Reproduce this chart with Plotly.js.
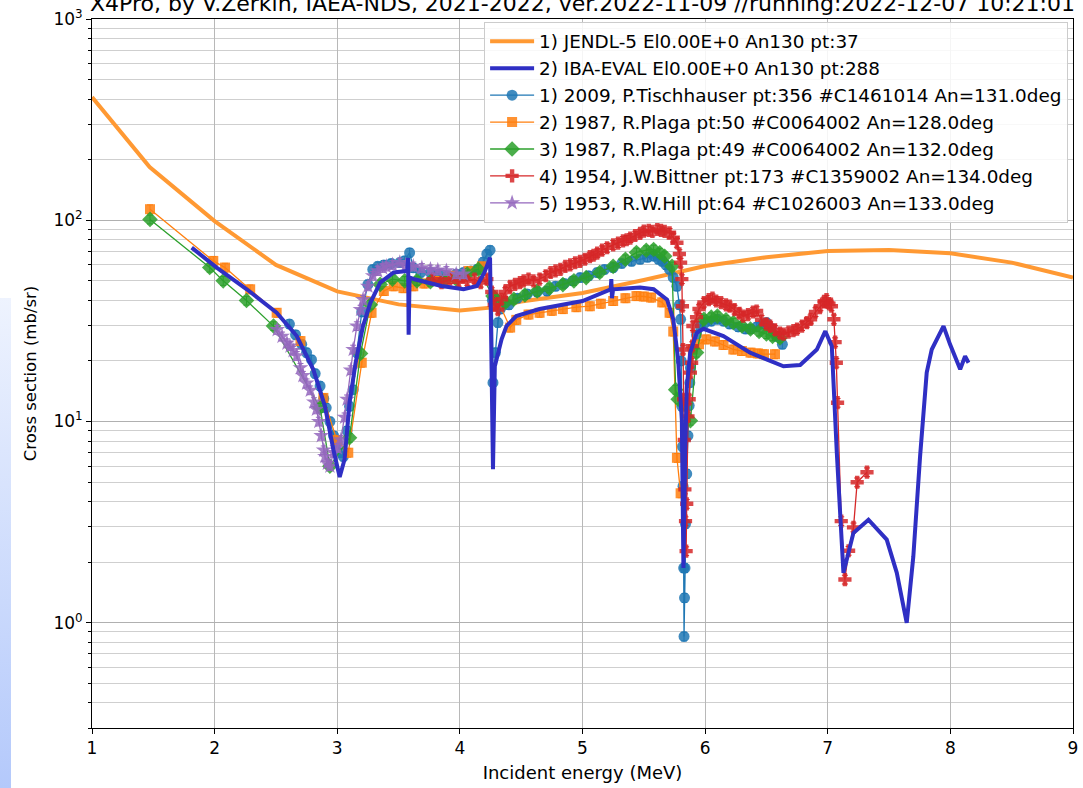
<!DOCTYPE html>
<html>
<head>
<meta charset="utf-8">
<script src="https://cdn.plot.ly/plotly-3.0.1.min.js"></script>
<style>
  html, body { margin: 0; padding: 0; background: #ffffff; }
  #strip { position: absolute; left: 0; top: 298px; width: 11px; height: 490px;
           background: linear-gradient(to bottom, #eef3fe, #b4c9fb); z-index: 0; }
  #chart { position: absolute; left: 0; top: 0; width: 1083px; height: 788px; z-index: 1; }
</style>
</head>
<body>
<div id="strip"></div>
<div id="chart"></div>
<script>
// ---------- data ----------
const titleText = "X4Pro, by V.Zerkin, IAEA-NDS, 2021-2022, ver.2022-11-09 //running:2022-12-07 10:21:01";

const seriesNames = [
  "1) JENDL-5 El0.00E+0 An130 pt:37",
  "2) IBA-EVAL El0.00E+0 An130 pt:288",
  "1) 2009, P.Tischhauser pt:356 #C1461014 An=131.0deg",
  "2) 1987, R.Plaga pt:50 #C0064002 An=128.0deg",
  "3) 1987, R.Plaga pt:49 #C0064002 An=132.0deg",
  "4) 1954, J.W.Bittner pt:173 #C1359002 An=134.0deg",
  "5) 1953, R.W.Hill pt:64 #C1026003 An=133.0deg"
];

const jendlE = [1.0, 1.47, 2.0, 2.5, 3.0, 3.5, 4.0, 4.25, 4.5, 5.0, 5.5, 6.0, 6.5, 7.0, 7.5, 8.0, 8.5, 9.0];
const jendlV = [409, 184, 99, 60, 44.3, 38.2, 35.6, 36.8, 39.5, 43.5, 50.5, 59.3, 65.5, 70.3, 71.1, 68.5, 61.6, 51.9];

const ibaE = [1.813, 2.017, 2.262, 2.506, 2.67, 2.805, 2.90, 2.968, 3.02, 3.06, 3.10, 3.15, 3.21, 3.27, 3.35, 3.46, 3.57,
  3.578, 3.582, 3.59, 3.63, 3.85, 4.03, 4.14, 4.20, 4.246, 4.27, 4.285, 4.34, 4.38, 4.46, 4.65, 5.0, 5.23, 5.235, 5.24, 5.25,
  5.47, 5.58, 5.69, 5.74, 5.78, 5.81, 5.823, 5.837, 5.851, 5.878, 5.932, 5.986, 6.149, 6.367, 6.639, 6.775, 6.911, 6.98,
  7.033, 7.074, 7.128, 7.209, 7.332, 7.481, 7.563, 7.644, 7.698, 7.753, 7.807, 7.848, 7.944, 7.998, 8.08, 8.12, 8.148];
const ibaV = [73.1, 58.2, 45.4, 34.7, 26.6, 18.1, 11.9, 7.26, 5.3, 6.5, 12.4, 19.6, 29.8, 38.9, 49, 55, 56,
  65, 27, 52, 50.9, 47.1, 45.4, 47.1, 55, 65.2, 5.8, 18.8, 25.6, 29.8, 33.4, 36.2, 39.7, 45.4, 51, 41, 45.4,
  46.3, 45.4, 40.3, 32.2, 20.3, 10.2, 1.87, 6.98, 15, 22, 27.6, 28.9, 26.6, 22, 18.8, 19.1, 22.8, 28.1,
  23.7, 6.98, 1.77, 2.79, 3.25, 2.59, 1.77, 1.0, 2.14, 6.72, 17.5, 22.8, 29.8, 24.1, 18.2, 21.1, 19.6];

const tischE = [2.61, 2.66, 2.71, 2.75, 2.79, 2.82, 2.86, 2.89, 2.91, 2.94, 2.97, 3.00, 3.03, 3.05, 3.08, 3.10, 3.13, 3.16,
  3.20, 3.25, 3.29, 3.33, 3.38, 3.44, 3.51, 3.55, 3.59, 3.62, 3.68, 3.76, 3.83, 3.90, 3.97, 4.03, 4.09, 4.14, 4.19, 4.22,
  4.246, 4.265, 4.27, 4.29, 4.31, 4.33, 4.40, 4.47, 4.55, 4.63, 4.71, 4.78, 4.85, 4.92, 4.98, 5.05, 5.12, 5.18, 5.25,
  5.32, 5.40, 5.47, 5.53, 5.58, 5.62, 5.65, 5.68, 5.71, 5.74, 5.77, 5.79, 5.80, 5.805, 5.81, 5.815, 5.82, 5.825, 5.828,
  5.832, 5.836, 5.84, 5.85, 5.86, 5.87, 5.875, 5.88, 5.90, 5.93, 5.96, 6.00, 6.05, 6.10, 6.15, 6.20, 6.27, 6.33, 6.37,
  6.42, 6.47, 6.50, 6.54, 6.58, 6.63];
const tischV = [30.5, 27, 24.2, 22, 20.3, 17.3, 15, 13, 11.7, 10, 8.5, 7.85, 7.0, 6.7, 9.0, 11.9, 14.4, 22,
  35, 48, 57, 59, 60, 61, 61.6, 63, 69, 58, 55, 55, 54, 53, 54, 55, 56, 57, 62, 68,
  71, 40, 15.6, 22, 31, 36.2, 38, 41, 43, 44, 44.5, 47, 48.5, 50, 51.9, 53, 55, 57, 58.2,
  61, 62.5, 64, 65.5, 66.3, 64, 62.5, 60, 57, 52, 47, 38, 32.2, 20, 11.9, 7.5, 4.77, 1.87, 0.855,
  1.33, 1.87, 3.1, 5.5, 8.5, 12, 15.6, 18.5, 23, 27, 29.8, 31, 31.5, 32.2, 31.5, 30.5, 29.5, 28.8, 28.8,
  29.5, 30.5, 31, 29, 26.5, 24.2];

const plaga128E = [1.473, 1.989, 2.085, 2.29, 2.506, 2.70, 2.887, 2.996, 3.09, 3.2, 3.28, 3.38, 3.46, 3.54, 3.62, 3.71,
  3.81, 3.94, 4.07, 4.18, 4.41, 4.46, 4.56, 4.65, 4.75, 4.84, 4.95, 5.06, 5.15, 5.25, 5.35, 5.44, 5.50, 5.56, 5.65,
  5.71, 5.74, 5.77, 5.80, 5.9, 5.95, 6.01, 6.08, 6.15, 6.23, 6.30, 6.37, 6.43, 6.48, 6.57];
const plaga128V = [113.5, 62.8, 58.2, 45.4, 34.7, 25.1, 13.1, 8.1, 7.0, 19.6, 34.7, 44.5, 47, 46, 47, 48.5,
  50, 53, 56, 59, 29.3, 32, 34, 34.7, 35.5, 36.2, 37, 37.4, 38.5, 39.7, 41, 42, 41.8, 41.3, 39.1,
  34.7, 28, 6.6, 4.4, 22.8, 24.2, 25.6, 25, 24, 22.8, 22.4, 22, 21.8, 21.6, 21.6];

const plaga132E = [1.473, 1.96, 2.07, 2.26, 2.48, 2.86, 2.94, 3.1, 3.19, 3.27, 3.35, 3.45, 3.55, 3.65, 3.76, 3.87, 3.97,
  4.06, 4.15, 4.27, 4.30, 4.37, 4.44, 4.53, 4.63, 4.73, 4.84, 4.93, 5.03, 5.14, 5.25, 5.35, 5.44, 5.52, 5.58, 5.63,
  5.67, 5.73, 5.76, 5.78, 5.88, 5.93, 5.99, 6.05, 6.10, 6.17, 6.23, 6.30, 6.37, 6.44, 6.50, 6.55, 6.61];
const plaga132V = [101, 58.2, 50, 39.9, 29.8, 11.7, 6.0, 8.3, 21.8, 38, 48, 51, 50, 50, 49.5, 50, 51,
  54, 57, 42, 40, 39, 40.5, 42.5, 44.5, 46, 47.9, 50, 51.9, 55, 59, 64, 69.2, 71, 71.6, 69,
  66.3, 59, 14.4, 12.9, 10.1, 22, 32.2, 33, 33.4, 32, 31, 29.8, 28.8, 28, 27.2, 26.5, 26];

const bittnerE = [3.78, 3.85, 3.92, 3.99, 4.06, 4.12, 4.17, 4.22, 4.26, 4.28, 4.31, 4.34, 4.37, 4.41, 4.45, 4.49, 4.52,
  4.56, 4.60, 4.65, 4.70, 4.74, 4.78, 4.82, 4.86, 4.90, 4.94, 4.98, 5.02, 5.06, 5.09, 5.12, 5.16, 5.20, 5.25, 5.29,
  5.33, 5.36, 5.39, 5.43, 5.47, 5.50, 5.54, 5.57, 5.61, 5.64, 5.67, 5.71, 5.74, 5.77, 5.79, 5.80, 5.81, 5.815, 5.82,
  5.825, 5.83, 5.835, 5.84, 5.845, 5.85, 5.86, 5.87, 5.88, 5.89, 5.895, 5.90, 5.93, 5.95, 5.99, 6.03, 6.06, 6.09,
  6.13, 6.17, 6.20, 6.24, 6.28, 6.31, 6.35, 6.39, 6.42, 6.46, 6.50, 6.53, 6.57, 6.61, 6.64, 6.68, 6.72, 6.75, 6.79,
  6.83, 6.86, 6.90, 6.94, 6.97, 6.99, 7.01, 7.03, 7.05, 7.06, 7.07, 7.08, 7.11, 7.14, 7.17, 7.21, 7.24, 7.32];
const bittnerV = [51, 49, 51, 49.5, 50, 51, 49, 51, 44, 38, 36, 40.5, 44, 47, 48, 49, 50,
  51, 50, 51, 53, 55, 56, 57, 59, 60, 61.5, 62.5, 64, 66, 67, 68.6, 71, 73, 75.5, 77,
  79, 80, 81.6, 84, 86, 88.3, 89, 88, 90, 89, 88, 86.7, 82, 77.3, 68, 61.6, 51, 37.4, 22.8,
  12.9, 8.1, 4.6, 3.2, 2.27, 3.9, 10.6, 12.9, 17.5, 19.6, 23.7, 29.8, 33, 36.2, 39, 40.3, 41, 39.7,
  39, 38, 37.4, 36, 34.5, 33.4, 34, 35, 35.4, 32, 30.5, 29.8, 28.5, 27.5, 27.2, 27.8, 28.3, 28.8, 29.8,
  31, 32.2, 35, 37.4, 39.5, 40.3, 38.5, 37.4, 32.2, 24.8, 19.6, 12.4, 3.2, 1.64, 2.28, 2.98, 4.99, 5.6];

const hillE = [2.51, 2.55, 2.59, 2.615, 2.64, 2.67, 2.70, 2.72, 2.75, 2.78, 2.81, 2.83, 2.85, 2.87, 2.89, 2.90, 2.92,
  2.94, 2.97, 3.00, 3.03, 3.06, 3.08, 3.11, 3.13, 3.16, 3.19, 3.21, 3.25, 3.29, 3.33, 3.37, 3.40, 3.45, 3.51, 3.56,
  3.62, 3.69, 3.76, 3.82, 3.89, 3.97, 4.03];
const hillV = [28.6, 26.5, 24.5, 23.7, 22.5, 21.2, 18.5, 16.9, 15.5, 14.3, 12.5, 11.5, 10, 8.5, 7.2, 6.7, 6.2,
  6.0, 7.0, 7.4, 8.1, 10.5, 12.9, 18, 22.8, 29.8, 36, 40.3, 47, 53, 56, 58, 59, 60, 61.6, 60,
  59, 58, 57, 56.5, 56, 54, 54];

const yTickVals = [1, 10, 100, 1000];
const yTickText = ["10<sup>0</sup>", "10<sup>1</sup>", "10<sup>2</sup>", "10<sup>3</sup>"];
const xTickVals = [1, 2, 3, 4, 5, 6, 7, 8, 9];

// ---------- styles ----------
const colors = ["#ff9933", "#2f2fc4", "#1f77b4", "#ff7f0e", "#2ca02c", "#d62728", "#9467bd"];
const symbols = [null, null, "circle", "square", "diamond", "cross", "star"];
const msizes = [0, 0, 11, 10, 12, 11, 12];

const minorVals = [];
[0.1, 1, 10, 100].forEach(d => { for (let k = 2; k <= 9; k++) minorVals.push(k * d); });

function expTrace(i, xs, ys, rank) {
  return {
    x: xs, y: ys, type: "scatter", mode: "lines+markers", name: seriesNames[i],
    legendgroup: "g" + i, legendrank: rank,
    line: { color: colors[i], width: 1.3 },
    marker: { color: colors[i], symbol: symbols[i], size: msizes[i], opacity: 0.85, line: { width: 0 } },
    error_y: { type: "percent", value: 5, color: colors[i], thickness: 1, width: 3 },
    hoverinfo: "skip"
  };
}

const traces = [
  { x: jendlE, y: jendlV, type: "scatter", mode: "lines", name: seriesNames[0], legendgroup: "g0", legendrank: 1,
    line: { color: colors[0], width: 4 }, hoverinfo: "skip" },
  expTrace(2, tischE, tischV, 3),
  expTrace(3, plaga128E, plaga128V, 4),
  expTrace(4, plaga132E, plaga132V, 5),
  expTrace(5, bittnerE, bittnerV, 6),
  expTrace(6, hillE, hillV, 7),
  { x: ibaE, y: ibaV, type: "scatter", mode: "lines", name: seriesNames[1], legendgroup: "g1", legendrank: 2,
    line: { color: colors[1], width: 4 }, hoverinfo: "skip" }
];

const font = "DejaVu Sans, sans-serif";
const layout = {
  width: 1083, height: 788,
  margin: { l: 92, r: 10, t: 19, b: 60 },
  paper_bgcolor: "rgba(0,0,0,0)", plot_bgcolor: "#ffffff",
  font: { family: font, size: 16, color: "#000000" },
  showlegend: true,
  title: { text: titleText, font: { family: font, size: 22, color: "#000000" },
           x: 0.5, xref: "paper", xanchor: "center", y: 1 - 3 / 788, yref: "container", yanchor: "middle" },
  xaxis: {
    type: "linear", range: [1, 9], tickvals: xTickVals, ticks: "outside", ticklen: 5, tickcolor: "#000",
    showline: true, linecolor: "#000", linewidth: 1, mirror: true, zeroline: false,
    showgrid: true, gridcolor: "#b8b8b8", gridwidth: 1,
    tickfont: { family: font, size: 17 },
    title: { text: "Incident energy (MeV)", font: { family: font, size: 18 }, standoff: 8 }
  },
  yaxis: {
    type: "log", range: [Math.log10(0.3), 3], tickvals: yTickVals, ticktext: yTickText,
    ticks: "outside", ticklen: 5, tickcolor: "#000",
    showline: true, linecolor: "#000", linewidth: 1, mirror: true, zeroline: false,
    showgrid: true, gridcolor: "#b0b0b0", gridwidth: 1,
    tickfont: { family: font, size: 17 },
    minor: { tickvals: minorVals, ticks: "outside", ticklen: 3, tickcolor: "#000",
             showgrid: true, gridcolor: "#cfcfcf", gridwidth: 1 },
    title: { text: "Cross section (mb/sr)", font: { family: font, size: 16.5 }, standoff: 12 }
  },
  legend: {
    x: 0.995, xanchor: "right", y: 0.996, yanchor: "top",
    bgcolor: "rgba(255,255,255,0.85)", bordercolor: "#cccccc", borderwidth: 1,
    font: { family: font, size: 18.4, color: "#000" },
    traceorder: "grouped", tracegroupgap: 0, itemwidth: 44
  }
};

Plotly.newPlot("chart", traces, layout, { displayModeBar: false, staticPlot: true });
</script>
</body>
</html>
